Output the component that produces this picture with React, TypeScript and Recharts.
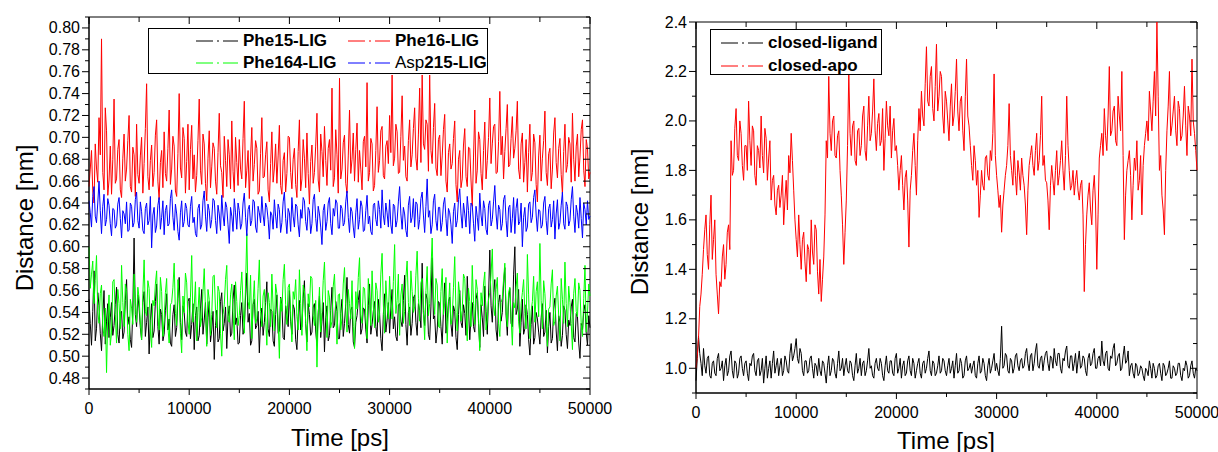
import React from 'react';
import { LineChart, Line, XAxis, YAxis, Legend, ReferenceArea } from 'recharts';

const FONT = '"Liberation Sans", Arial, sans-serif';

// sampling grid, one frame every 125 ps
const time: number[] = Array.from({ length: 401 }, (_, i) => i * 125);

const xTicks = [0, 5000, 10000, 15000, 20000, 25000, 30000, 35000, 40000, 45000, 50000];
const leftYTicks = [
  0.47, 0.48, 0.49, 0.5, 0.51, 0.52, 0.53, 0.54, 0.55, 0.56, 0.57, 0.58, 0.59, 0.6, 0.61, 0.62, 0.63,
  0.64, 0.65, 0.66, 0.67, 0.68, 0.69, 0.7, 0.71, 0.72, 0.73, 0.74, 0.75, 0.76, 0.77, 0.78, 0.79, 0.8, 0.81,
];
const rightYTicks = [0.9, 1.0, 1.1, 1.2, 1.3, 1.4, 1.5, 1.6, 1.7, 1.8, 1.9, 2.0, 2.1, 2.2, 2.3, 2.4];

const phe15 = [
  0.552, 0.530, 0.510, 0.541, 0.578, 0.514, 0.525, 0.558, 0.546, 0.521, 0.505, 0.537, 0.560, 0.511, 0.532, 0.548, 0.517, 0.535, 0.549, 0.519,
  0.528, 0.547, 0.563, 0.520, 0.512, 0.539, 0.541, 0.516, 0.522, 0.551, 0.570, 0.529, 0.536, 0.515, 0.508, 0.544, 0.608, 0.538, 0.527, 0.556,
  0.544, 0.526, 0.515, 0.549, 0.559, 0.518, 0.531, 0.545, 0.502, 0.533, 0.548, 0.517, 0.523, 0.550, 0.566, 0.527, 0.511, 0.543, 0.538, 0.514,
  0.520, 0.542, 0.557, 0.524, 0.534, 0.512, 0.509, 0.538, 0.547, 0.518, 0.526, 0.553, 0.572, 0.531, 0.515, 0.546, 0.540, 0.522, 0.518, 0.550,
  0.553, 0.516, 0.529, 0.548, 0.506, 0.537, 0.545, 0.514, 0.519, 0.544, 0.561, 0.520, 0.533, 0.549, 0.511, 0.535, 0.550, 0.513, 0.524, 0.541,
  0.497, 0.528, 0.542, 0.513, 0.516, 0.550, 0.558, 0.523, 0.530, 0.545, 0.507, 0.536, 0.546, 0.518, 0.521, 0.552, 0.565, 0.529, 0.535, 0.511,
  0.512, 0.537, 0.549, 0.520, 0.526, 0.555, 0.576, 0.531, 0.539, 0.510, 0.514, 0.547, 0.552, 0.525, 0.528, 0.541, 0.503, 0.533, 0.544, 0.519,
  0.531, 0.549, 0.568, 0.525, 0.518, 0.543, 0.541, 0.514, 0.509, 0.538, 0.556, 0.521, 0.523, 0.554, 0.547, 0.517, 0.515, 0.546, 0.537, 0.527,
  0.560, 0.532, 0.520, 0.547, 0.543, 0.515, 0.506, 0.536, 0.551, 0.524, 0.527, 0.553, 0.569, 0.530, 0.513, 0.548, 0.538, 0.519, 0.522, 0.545,
  0.548, 0.523, 0.510, 0.540, 0.555, 0.517, 0.532, 0.549, 0.504, 0.535, 0.546, 0.514, 0.519, 0.542, 0.563, 0.526, 0.528, 0.550, 0.541, 0.516,
  0.516, 0.539, 0.552, 0.518, 0.530, 0.548, 0.572, 0.529, 0.521, 0.542, 0.545, 0.513, 0.508, 0.531, 0.537, 0.551, 0.560, 0.520, 0.525, 0.544,
  0.543, 0.524, 0.512, 0.546, 0.566, 0.520, 0.529, 0.541, 0.550, 0.527, 0.518, 0.552, 0.539, 0.516, 0.505, 0.538, 0.557, 0.522, 0.533, 0.549,
  0.521, 0.544, 0.561, 0.525, 0.536, 0.518, 0.514, 0.547, 0.548, 0.532, 0.527, 0.551, 0.574, 0.529, 0.510, 0.540, 0.545, 0.519, 0.530, 0.553,
  0.556, 0.531, 0.519, 0.548, 0.542, 0.526, 0.585, 0.539, 0.528, 0.557, 0.552, 0.520, 0.515, 0.545, 0.590, 0.534, 0.537, 0.512, 0.524, 0.550,
  0.548, 0.527, 0.511, 0.543, 0.567, 0.521, 0.532, 0.550, 0.554, 0.529, 0.518, 0.546, 0.541, 0.517, 0.506, 0.538, 0.560, 0.531, 0.526, 0.547,
  0.539, 0.519, 0.573, 0.544, 0.515, 0.536, 0.549, 0.527, 0.522, 0.552, 0.558, 0.530, 0.508, 0.547, 0.535, 0.518, 0.564, 0.541, 0.520, 0.555,
  0.597, 0.546, 0.531, 0.558, 0.570, 0.524, 0.514, 0.549, 0.556, 0.532, 0.540, 0.566, 0.581, 0.537, 0.519, 0.553, 0.562, 0.530, 0.527, 0.575,
  0.600, 0.538, 0.543, 0.561, 0.509, 0.531, 0.552, 0.520, 0.525, 0.547, 0.538, 0.515, 0.501, 0.529, 0.546, 0.511, 0.517, 0.540, 0.534, 0.522,
  0.511, 0.535, 0.548, 0.518, 0.522, 0.542, 0.503, 0.527, 0.540, 0.512, 0.516, 0.544, 0.553, 0.523, 0.505, 0.537, 0.531, 0.509, 0.519, 0.546,
  0.542, 0.520, 0.507, 0.533, 0.528, 0.545, 0.552, 0.517, 0.513, 0.539, 0.536, 0.512, 0.498, 0.530, 0.524, 0.541, 0.547, 0.521, 0.510, 0.537,
  0.526,
];

const phe16 = [
  0.655, 0.671, 0.688, 0.651, 0.640, 0.694, 0.672, 0.659, 0.718, 0.684, 0.790, 0.668, 0.652, 0.727, 0.706, 0.647, 0.661, 0.692, 0.648, 0.680,
  0.735, 0.658, 0.662, 0.689, 0.698, 0.652, 0.645, 0.681, 0.703, 0.660, 0.671, 0.697, 0.720, 0.655, 0.650, 0.691, 0.684, 0.646, 0.712, 0.666,
  0.658, 0.683, 0.700, 0.649, 0.676, 0.708, 0.749, 0.664, 0.652, 0.679, 0.693, 0.655, 0.668, 0.702, 0.716, 0.660, 0.643, 0.677, 0.688, 0.654,
  0.705, 0.667, 0.660, 0.690, 0.725, 0.657, 0.671, 0.701, 0.692, 0.651, 0.646, 0.685, 0.740, 0.672, 0.663, 0.709, 0.699, 0.649, 0.678, 0.712,
  0.652, 0.689, 0.711, 0.662, 0.684, 0.650, 0.665, 0.697, 0.735, 0.670, 0.657, 0.703, 0.694, 0.658, 0.642, 0.681, 0.706, 0.654, 0.673, 0.695,
  0.690, 0.660, 0.648, 0.686, 0.722, 0.674, 0.668, 0.645, 0.701, 0.679, 0.655, 0.698, 0.684, 0.653, 0.715, 0.669, 0.650, 0.700, 0.677, 0.656,
  0.698, 0.671, 0.662, 0.699, 0.733, 0.654, 0.670, 0.688, 0.644, 0.682, 0.709, 0.660, 0.675, 0.697, 0.690, 0.648, 0.651, 0.685, 0.718, 0.663,
  0.664, 0.684, 0.696, 0.652, 0.641, 0.676, 0.705, 0.659, 0.672, 0.694, 0.658, 0.683, 0.711, 0.656, 0.648, 0.679, 0.686, 0.650, 0.667, 0.701,
  0.700, 0.668, 0.653, 0.680, 0.690, 0.657, 0.645, 0.687, 0.716, 0.651, 0.662, 0.698, 0.681, 0.654, 0.704, 0.667, 0.639, 0.678, 0.693, 0.658,
  0.668, 0.692, 0.722, 0.661, 0.650, 0.703, 0.687, 0.664, 0.710, 0.679, 0.656, 0.690, 0.698, 0.670, 0.745, 0.655, 0.663, 0.707, 0.684, 0.649,
  0.754, 0.662, 0.671, 0.695, 0.702, 0.658, 0.649, 0.683, 0.725, 0.667, 0.680, 0.704, 0.660, 0.689, 0.713, 0.659, 0.688, 0.671, 0.652, 0.696,
  0.701, 0.673, 0.750, 0.660, 0.668, 0.699, 0.694, 0.651, 0.656, 0.688, 0.728, 0.668, 0.679, 0.706, 0.710, 0.665, 0.662, 0.692, 0.697, 0.676,
  0.720, 0.686, 0.757, 0.674, 0.681, 0.712, 0.705, 0.667, 0.668, 0.701, 0.738, 0.679, 0.692, 0.664, 0.660, 0.697, 0.716, 0.673, 0.684, 0.708,
  0.727, 0.681, 0.670, 0.703, 0.745, 0.677, 0.757, 0.694, 0.689, 0.716, 0.712, 0.669, 0.757, 0.688, 0.676, 0.709, 0.731, 0.672, 0.665, 0.698,
  0.702, 0.665, 0.683, 0.707, 0.721, 0.660, 0.650, 0.686, 0.694, 0.671, 0.676, 0.699, 0.715, 0.657, 0.641, 0.680, 0.688, 0.654, 0.662, 0.693,
  0.708, 0.664, 0.655, 0.691, 0.690, 0.661, 0.637, 0.682, 0.725, 0.658, 0.670, 0.705, 0.698, 0.667, 0.652, 0.688, 0.714, 0.662, 0.679, 0.700,
  0.736, 0.676, 0.694, 0.710, 0.712, 0.667, 0.668, 0.696, 0.742, 0.684, 0.701, 0.662, 0.687, 0.708, 0.730, 0.673, 0.675, 0.699, 0.719, 0.681,
  0.690, 0.706, 0.733, 0.671, 0.662, 0.694, 0.704, 0.659, 0.677, 0.698, 0.650, 0.686, 0.712, 0.660, 0.668, 0.703, 0.695, 0.657, 0.641, 0.683,
  0.702, 0.660, 0.681, 0.697, 0.724, 0.668, 0.656, 0.685, 0.690, 0.653, 0.671, 0.704, 0.718, 0.677, 0.663, 0.690, 0.699, 0.666, 0.648, 0.687,
  0.712, 0.668, 0.675, 0.700, 0.694, 0.659, 0.722, 0.680, 0.660, 0.692, 0.703, 0.664, 0.682, 0.707, 0.716, 0.670, 0.655, 0.698, 0.690, 0.662,
  0.668,
];

const phe164 = [
  0.600, 0.562, 0.575, 0.587, 0.548, 0.569, 0.592, 0.541, 0.530, 0.557, 0.565, 0.527, 0.518, 0.544, 0.485, 0.536, 0.556, 0.510, 0.522, 0.568,
  0.570, 0.538, 0.512, 0.561, 0.548, 0.525, 0.583, 0.549, 0.527, 0.566, 0.560, 0.520, 0.505, 0.552, 0.544, 0.529, 0.575, 0.547, 0.531, 0.563,
  0.553, 0.530, 0.515, 0.557, 0.588, 0.541, 0.537, 0.569, 0.562, 0.523, 0.508, 0.551, 0.546, 0.566, 0.578, 0.535, 0.524, 0.572, 0.559, 0.518,
  0.533, 0.558, 0.571, 0.526, 0.512, 0.547, 0.549, 0.563, 0.585, 0.539, 0.528, 0.570, 0.556, 0.521, 0.503, 0.555, 0.540, 0.576, 0.567, 0.532,
  0.520, 0.554, 0.592, 0.531, 0.545, 0.568, 0.514, 0.540, 0.563, 0.527, 0.535, 0.559, 0.580, 0.543, 0.509, 0.561, 0.552, 0.519, 0.538, 0.573,
  0.574, 0.542, 0.526, 0.564, 0.559, 0.521, 0.500, 0.538, 0.547, 0.570, 0.583, 0.533, 0.531, 0.556, 0.566, 0.540, 0.515, 0.568, 0.550, 0.528,
  0.537, 0.560, 0.577, 0.545, 0.521, 0.566, 0.612, 0.550, 0.543, 0.574, 0.516, 0.548, 0.569, 0.530, 0.534, 0.562, 0.588, 0.541, 0.527, 0.555,
  0.561, 0.536, 0.510, 0.558, 0.549, 0.527, 0.575, 0.544, 0.523, 0.566, 0.557, 0.532, 0.498, 0.553, 0.541, 0.570, 0.584, 0.547, 0.529, 0.563,
  0.566, 0.540, 0.513, 0.559, 0.552, 0.570, 0.536, 0.524, 0.579, 0.548, 0.519, 0.565, 0.560, 0.531, 0.505, 0.557, 0.545, 0.573, 0.571, 0.537,
  0.528, 0.551, 0.490, 0.537, 0.563, 0.522, 0.540, 0.569, 0.586, 0.543, 0.517, 0.560, 0.554, 0.526, 0.532, 0.564, 0.575, 0.541, 0.511, 0.556,
  0.557, 0.524, 0.535, 0.566, 0.581, 0.546, 0.522, 0.561, 0.548, 0.534, 0.569, 0.527, 0.507, 0.559, 0.543, 0.572, 0.590, 0.538, 0.530, 0.563,
  0.562, 0.537, 0.516, 0.571, 0.553, 0.528, 0.578, 0.546, 0.526, 0.567, 0.560, 0.531, 0.539, 0.575, 0.594, 0.548, 0.521, 0.569, 0.547, 0.534,
  0.573, 0.547, 0.534, 0.568, 0.602, 0.539, 0.551, 0.575, 0.519, 0.556, 0.566, 0.530, 0.541, 0.572, 0.587, 0.549, 0.528, 0.578, 0.559, 0.540,
  0.545, 0.574, 0.596, 0.553, 0.532, 0.567, 0.571, 0.541, 0.515, 0.560, 0.582, 0.537, 0.548, 0.579, 0.608, 0.556, 0.538, 0.571, 0.565, 0.527,
  0.526, 0.559, 0.580, 0.538, 0.549, 0.572, 0.512, 0.545, 0.567, 0.529, 0.535, 0.563, 0.591, 0.540, 0.523, 0.568, 0.556, 0.532, 0.542, 0.575,
  0.571, 0.540, 0.514, 0.562, 0.550, 0.527, 0.583, 0.548, 0.529, 0.570, 0.561, 0.535, 0.505, 0.558, 0.546, 0.566, 0.577, 0.524, 0.533, 0.552,
  0.558, 0.575, 0.598, 0.547, 0.537, 0.561, 0.572, 0.530, 0.518, 0.549, 0.553, 0.570, 0.585, 0.541, 0.527, 0.558, 0.563, 0.536, 0.510, 0.549,
  0.544, 0.563, 0.576, 0.532, 0.521, 0.548, 0.558, 0.570, 0.539, 0.525, 0.593, 0.556, 0.516, 0.541, 0.550, 0.573, 0.531, 0.559, 0.568, 0.536,
  0.603, 0.551, 0.525, 0.569, 0.557, 0.534, 0.509, 0.543, 0.545, 0.566, 0.579, 0.528, 0.532, 0.555, 0.564, 0.537, 0.514, 0.571, 0.552, 0.530,
  0.586, 0.548, 0.527, 0.564, 0.549, 0.530, 0.506, 0.557, 0.571, 0.541, 0.536, 0.567, 0.560, 0.529, 0.518, 0.553, 0.583, 0.522, 0.540, 0.566,
  0.555,
];

const asp215 = [
  0.642, 0.631, 0.618, 0.646, 0.655, 0.628, 0.622, 0.640, 0.660, 0.633, 0.612, 0.637, 0.648, 0.619, 0.625, 0.644, 0.638, 0.621, 0.610, 0.635,
  0.634, 0.617, 0.620, 0.639, 0.645, 0.626, 0.608, 0.633, 0.630, 0.621, 0.641, 0.614, 0.615, 0.640, 0.637, 0.618, 0.622, 0.643, 0.650, 0.624,
  0.617, 0.641, 0.632, 0.615, 0.612, 0.635, 0.640, 0.620, 0.624, 0.646, 0.599, 0.629, 0.636, 0.613, 0.619, 0.638, 0.645, 0.616, 0.627, 0.642,
  0.611, 0.633, 0.638, 0.619, 0.621, 0.644, 0.652, 0.627, 0.615, 0.639, 0.630, 0.614, 0.606, 0.631, 0.642, 0.618, 0.623, 0.640, 0.635, 0.620,
  0.618, 0.637, 0.646, 0.622, 0.627, 0.612, 0.609, 0.635, 0.639, 0.616, 0.620, 0.642, 0.651, 0.628, 0.614, 0.639, 0.633, 0.617, 0.625, 0.644,
  0.642, 0.624, 0.612, 0.638, 0.630, 0.615, 0.647, 0.629, 0.619, 0.641, 0.636, 0.620, 0.603, 0.636, 0.628, 0.614, 0.644, 0.631, 0.616, 0.640,
  0.633, 0.616, 0.621, 0.640, 0.649, 0.627, 0.610, 0.634, 0.638, 0.619, 0.624, 0.643, 0.641, 0.618, 0.613, 0.637, 0.631, 0.622, 0.646, 0.629,
  0.619, 0.640, 0.636, 0.625, 0.607, 0.632, 0.629, 0.616, 0.643, 0.628, 0.617, 0.639, 0.634, 0.613, 0.622, 0.641, 0.650, 0.626, 0.612, 0.635,
  0.631, 0.614, 0.645, 0.628, 0.618, 0.639, 0.637, 0.620, 0.609, 0.634, 0.626, 0.645, 0.642, 0.623, 0.615, 0.636, 0.633, 0.612, 0.621, 0.643,
  0.648, 0.626, 0.614, 0.637, 0.630, 0.618, 0.602, 0.633, 0.639, 0.615, 0.623, 0.640, 0.645, 0.621, 0.611, 0.635, 0.628, 0.643, 0.640, 0.617,
  0.617, 0.638, 0.635, 0.619, 0.622, 0.641, 0.651, 0.627, 0.613, 0.636, 0.632, 0.618, 0.608, 0.631, 0.644, 0.616, 0.625, 0.642, 0.637, 0.614,
  0.615, 0.633, 0.647, 0.621, 0.628, 0.614, 0.611, 0.638, 0.640, 0.625, 0.619, 0.642, 0.634, 0.617, 0.652, 0.629, 0.620, 0.640, 0.631, 0.618,
  0.643, 0.620, 0.612, 0.639, 0.637, 0.618, 0.624, 0.641, 0.655, 0.630, 0.616, 0.636, 0.630, 0.615, 0.609, 0.638, 0.646, 0.622, 0.627, 0.644,
  0.618, 0.641, 0.639, 0.616, 0.625, 0.644, 0.650, 0.629, 0.613, 0.637, 0.662, 0.627, 0.633, 0.612, 0.620, 0.642, 0.648, 0.624, 0.615, 0.636,
  0.636, 0.614, 0.622, 0.639, 0.645, 0.626, 0.610, 0.635, 0.631, 0.620, 0.603, 0.632, 0.640, 0.618, 0.624, 0.643, 0.653, 0.630, 0.617, 0.640,
  0.630, 0.618, 0.646, 0.633, 0.612, 0.640, 0.638, 0.621, 0.605, 0.637, 0.627, 0.615, 0.649, 0.629, 0.619, 0.642, 0.635, 0.616, 0.611, 0.638,
  0.642, 0.619, 0.625, 0.641, 0.656, 0.630, 0.616, 0.638, 0.634, 0.615, 0.621, 0.643, 0.647, 0.624, 0.609, 0.636, 0.638, 0.613, 0.626, 0.645,
  0.612, 0.635, 0.644, 0.620, 0.623, 0.640, 0.600, 0.627, 0.636, 0.614, 0.618, 0.639, 0.641, 0.622, 0.627, 0.645, 0.652, 0.629, 0.614, 0.634,
  0.633, 0.617, 0.620, 0.640, 0.646, 0.624, 0.611, 0.635, 0.639, 0.618, 0.625, 0.642, 0.607, 0.630, 0.643, 0.616, 0.622, 0.638, 0.650, 0.621,
  0.616, 0.641, 0.637, 0.619, 0.624, 0.643, 0.655, 0.628, 0.613, 0.638, 0.631, 0.617, 0.645, 0.626, 0.608, 0.640, 0.634, 0.620, 0.642, 0.625,
  0.628,
];

const closedLigand = [
  0.95, 1.04, 1.13, 1.06, 1.02, 0.97, 1.08, 1.01, 0.98, 1.04, 1.05, 0.97, 0.96, 1.02, 1.03, 0.98, 0.97, 1.04, 1.06, 0.99,
  1.00, 1.03, 0.95, 1.01, 1.04, 0.97, 0.99, 1.05, 1.07, 0.99, 0.96, 1.03, 1.02, 0.96, 0.98, 1.04, 1.05, 1.00, 0.97, 1.02,
  1.03, 0.98, 0.95, 1.02, 1.01, 1.05, 1.06, 0.99, 0.97, 1.03, 1.04, 0.97, 0.99, 1.04, 0.94, 1.00, 1.05, 0.96, 1.00, 1.03,
  0.96, 1.02, 1.07, 0.98, 1.01, 1.04, 0.97, 1.01, 1.04, 0.97, 0.99, 1.05, 1.03, 0.99, 0.98, 1.06, 1.10, 1.03, 1.05, 1.08,
  1.12, 1.04, 1.02, 1.08, 1.06, 0.99, 0.97, 1.03, 1.03, 0.98, 0.99, 1.04, 1.05, 1.00, 0.96, 1.02, 1.01, 0.97, 1.04, 0.99,
  0.97, 1.03, 1.02, 0.98, 0.94, 1.01, 1.05, 0.97, 0.99, 1.04, 1.03, 0.98, 0.96, 1.02, 1.07, 0.99, 1.00, 1.04, 0.97, 1.01,
  1.04, 0.99, 0.98, 1.03, 1.02, 0.97, 0.95, 1.01, 1.06, 0.98, 1.00, 1.04, 0.97, 1.02, 1.03, 0.97, 0.99, 1.03, 1.08, 1.00,
  1.01, 0.97, 0.96, 1.02, 1.04, 1.00, 0.99, 1.04, 1.02, 0.97, 0.95, 1.01, 1.05, 0.99, 0.98, 1.03, 1.03, 0.98, 0.97, 1.04,
  1.06, 0.98, 1.00, 1.04, 0.96, 1.01, 1.03, 0.97, 0.98, 1.03, 1.05, 0.99, 0.97, 1.04, 1.02, 0.96, 0.99, 1.02, 1.04, 0.98,
  0.96, 1.02, 1.03, 0.98, 1.00, 1.04, 1.07, 0.99, 0.97, 1.03, 1.02, 0.97, 0.98, 1.01, 1.05, 0.98, 0.99, 1.04, 1.03, 0.99,
  0.97, 1.01, 1.04, 0.98, 1.00, 1.03, 0.96, 1.01, 1.06, 0.98, 0.99, 1.04, 1.02, 0.96, 0.97, 1.03, 1.05, 0.99, 1.00, 1.02,
  0.98, 1.01, 1.03, 0.97, 0.96, 1.02, 1.05, 0.98, 0.99, 1.04, 1.02, 0.97, 0.95, 1.01, 1.04, 0.98, 1.00, 1.03, 1.06, 0.99,
  1.02, 0.99, 0.97, 1.04, 1.17, 1.00, 1.01, 1.06, 1.05, 0.99, 0.98, 1.04, 1.03, 0.98, 1.00, 1.05, 1.06, 1.01, 0.99, 1.03,
  1.04, 1.00, 1.01, 1.06, 1.08, 1.02, 0.99, 1.05, 1.06, 0.99, 1.02, 1.07, 1.10, 1.01, 1.00, 1.04, 1.05, 0.99, 1.03, 1.06,
  1.07, 1.02, 0.99, 1.05, 1.04, 1.00, 1.08, 1.03, 1.01, 1.06, 1.06, 1.00, 0.98, 1.04, 1.03, 1.07, 1.09, 1.01, 1.00, 1.05,
  1.05, 0.99, 1.02, 1.06, 0.98, 1.03, 1.07, 1.00, 1.01, 1.05, 1.04, 0.99, 0.97, 1.04, 1.06, 1.01, 1.02, 1.06, 1.08, 1.00,
  1.00, 1.04, 1.05, 1.01, 1.11, 1.03, 1.01, 1.06, 1.07, 1.00, 0.99, 1.05, 1.04, 1.08, 1.10, 1.01, 1.02, 1.05, 1.06, 0.99,
  1.00, 1.05, 1.09, 1.02, 1.03, 1.07, 0.97, 1.01, 1.02, 0.98, 0.96, 1.02, 1.01, 0.97, 0.98, 1.01, 1.00, 0.97, 0.95, 1.00,
  0.99, 0.97, 1.03, 1.00, 0.96, 1.02, 1.00, 0.96, 0.97, 1.01, 1.02, 0.98, 0.95, 1.02, 1.01, 0.97, 0.98, 1.00, 1.03, 0.96,
  0.96, 1.01, 1.00, 0.97, 0.98, 1.02, 1.02, 0.97, 0.95, 1.00, 0.99, 1.03, 1.01, 0.96, 0.97, 1.01, 1.03, 0.98, 0.96, 1.00,
  0.99,
];

const closedApo = [
  1.00, 1.05, 1.12, 1.25, 1.30, 1.38, 1.48, 1.56, 1.62, 1.46, 1.40, 1.58, 1.70, 1.44, 1.52, 1.60, 1.38, 1.30, 1.22, 1.35,
  1.33, 1.45, 1.50, 1.36, 1.42, 1.55, 1.58, 1.48, 1.92, 1.78, 1.80, 1.97, 2.05, 1.86, 1.84, 2.00, 1.95, 1.82, 1.76, 1.90,
  1.90, 1.80, 2.08, 1.92, 1.82, 1.98, 1.96, 1.78, 1.74, 1.90, 1.88, 1.81, 2.02, 1.86, 1.79, 1.97, 1.93, 1.76, 1.85, 1.92,
  1.68, 1.76, 1.78, 1.66, 1.62, 1.72, 1.74, 1.65, 1.70, 1.78, 1.58, 1.68, 1.76, 1.64, 1.86, 1.79, 1.95, 1.84, 1.72, 1.60,
  1.52, 1.45, 1.62, 1.50, 1.40, 1.52, 1.55, 1.43, 1.35, 1.50, 1.48, 1.38, 1.60, 1.47, 1.42, 1.58, 1.56, 1.39, 1.30, 1.44,
  1.27, 1.36, 1.45, 1.62, 1.92, 1.85, 2.18, 1.95, 1.88, 2.00, 2.02, 1.86, 1.85, 1.94, 1.96, 1.80, 1.70, 1.58, 1.42, 1.55,
  1.68, 1.90, 2.20, 1.95, 1.86, 1.98, 2.00, 1.84, 1.82, 1.96, 1.97, 1.86, 1.90, 2.02, 2.06, 1.88, 1.84, 1.98, 2.10, 1.92,
  1.95, 2.04, 2.17, 1.96, 1.88, 1.99, 2.03, 1.90, 1.92, 2.05, 1.80, 1.93, 2.08, 1.98, 1.94, 2.06, 1.85, 1.96, 2.01, 1.88,
  1.90, 1.82, 1.72, 1.80, 1.86, 1.74, 1.64, 1.77, 1.80, 1.68, 1.49, 1.72, 1.78, 1.88, 1.95, 1.82, 1.70, 1.92, 2.05, 1.96,
  2.12, 2.02, 1.98, 2.15, 2.30, 2.08, 2.06, 2.18, 2.22, 2.05, 2.00, 2.14, 2.31, 2.04, 2.10, 2.20, 2.18, 2.02, 1.95, 2.12,
  2.08, 2.00, 1.92, 2.06, 2.15, 1.98, 2.02, 2.12, 2.25, 2.04, 1.96, 2.08, 2.10, 1.96, 1.88, 2.10, 2.25, 2.02, 1.98, 1.90,
  1.82, 1.76, 1.90, 1.84, 1.74, 1.80, 1.61, 1.70, 1.80, 1.74, 1.72, 1.85, 1.86, 1.78, 1.76, 1.88, 1.84, 1.95, 2.19, 1.86,
  1.78, 1.72, 1.65, 1.70, 1.55, 1.66, 1.72, 1.78, 1.82, 1.90, 2.07, 1.86, 1.80, 1.74, 1.88, 1.78, 1.70, 1.84, 1.79, 1.72,
  1.85, 1.78, 1.74, 1.66, 1.54, 1.72, 1.82, 1.86, 1.90, 1.82, 1.78, 1.88, 1.95, 1.80, 1.84, 1.94, 2.10, 1.82, 1.86, 1.76,
  1.75, 1.68, 1.56, 1.74, 1.82, 1.76, 1.70, 1.80, 1.88, 1.74, 1.78, 1.84, 1.92, 1.80, 1.72, 1.86, 2.10, 1.90, 1.80, 1.72,
  1.74, 1.80, 1.70, 1.76, 1.80, 1.72, 1.68, 1.74, 1.76, 1.62, 1.31, 1.50, 1.62, 1.70, 1.75, 1.64, 1.58, 1.72, 1.78, 1.66,
  1.40, 1.62, 1.85, 1.90, 1.95, 1.86, 2.05, 1.94, 1.88, 2.02, 2.22, 1.94, 1.96, 2.04, 2.06, 1.92, 1.90, 2.10, 2.02, 1.96,
  2.20, 1.86, 1.52, 1.70, 1.80, 1.84, 1.88, 1.78, 1.60, 1.74, 1.85, 1.80, 1.92, 1.72, 1.76, 1.86, 1.62, 1.82, 1.90, 1.95,
  2.00, 1.92, 2.12, 2.04, 1.96, 2.08, 2.20, 2.02, 2.40, 2.10, 1.80, 1.86, 1.70, 1.64, 1.54, 1.80, 1.96, 2.06, 2.20, 1.94,
  1.98, 2.04, 2.10, 1.96, 1.90, 2.08, 2.05, 1.92, 1.94, 2.02, 2.14, 1.98, 1.86, 2.06, 2.02, 1.94, 2.25, 2.00, 1.95, 1.88,
  1.80,
];

const leftData = time.map((t, i) => ({
  t,
  phe15: phe15[i],
  phe16: phe16[i],
  phe164: phe164[i],
  asp215: asp215[i],
}));

const rightData = time.map((t, i) => ({
  t,
  ligand: closedLigand[i],
  apo: closedApo[i],
}));

const leftOrder = ['Phe15-LIG', 'Phe16-LIG', 'Phe164-LIG', 'Asp215-LIG'];
const rightOrder = ['closed-ligand', 'closed-apo'];

// ticks drawn by hand so the frame gets Origin-style mirrored inner ticks
const makeXTick = (plotTop: number) => (props: any) => {
  const { x, y, payload } = props;
  const major = payload.value % 10000 === 0;
  return (
    <g>
      <line x1={x} x2={x} y1={y} y2={y + (major ? 6 : 4)} stroke="#000" />
      <line x1={x} x2={x} y1={plotTop} y2={plotTop + (major ? 7 : 5)} stroke="#000" />
      {major && (
        <text x={x} y={y + 25} textAnchor="middle" fontSize={16} fontFamily={FONT} fill="#000">
          {payload.value}
        </text>
      )}
    </g>
  );
};

const makeYTick = (plotRight: number, step: number, digits: number) => (props: any) => {
  const { x, y, payload } = props;
  const major = Math.round(payload.value / step) % 2 === 0;
  return (
    <g>
      <line x1={x - (major ? 7 : 4)} x2={x} y1={y} y2={y} stroke="#000" />
      <line x1={plotRight - (major ? 7 : 4)} x2={plotRight} y1={y} y2={y} stroke="#000" />
      {major && (
        <text x={x - 9} y={y + 5.5} textAnchor="end" fontSize={16} fontFamily={FONT} fill="#000">
          {payload.value.toFixed(digits)}
        </text>
      )}
    </g>
  );
};

const renderName = (name: string) =>
  name === 'Asp215-LIG' ? (
    <>
      <span style={{ fontWeight: 400 }}>Asp</span>215-LIG
    </>
  ) : (
    name
  );

const LegendBox = ({ payload, order, width, height, colX, rowY }: any) => {
  const items = order.map((n: string) => (payload || []).find((p: any) => p.value === n)).filter(Boolean);
  return (
    <div
      style={{
        position: 'relative',
        width,
        height,
        border: '1px solid #000',
        boxSizing: 'border-box',
        background: '#fff',
      }}
    >
      {items.map((item: any, i: number) => {
        const col = i % colX.length;
        const row = Math.floor(i / colX.length);
        return (
          <div
            key={item.value}
            style={{
              position: 'absolute',
              left: colX[col],
              top: rowY[row] - 10,
              height: 20,
              display: 'flex',
              alignItems: 'center',
              whiteSpace: 'nowrap',
            }}
          >
            <svg width={42} height={4} style={{ display: 'block' }}>
              <line x1={0} y1={2} x2={42} y2={2} stroke={item.color} strokeDasharray="17 4 2 4" />
            </svg>
            <span style={{ marginLeft: 5, fontWeight: 700, fontSize: 17, fontFamily: FONT, color: '#000' }}>
              {renderName(item.value)}
            </span>
          </div>
        );
      })}
    </div>
  );
};

const App = () => {
  return (
    <div style={{ position: 'absolute', left: 0, top: 0, width: 1218, height: 452, background: '#fff' }}>
      <div style={{ position: 'absolute', left: 0, top: 0 }}>
        <LineChart width={640} height={452} data={leftData} margin={{ top: 17, right: 50, bottom: 0, left: 0 }}>
          <XAxis
            dataKey="t"
            type="number"
            domain={[0, 50000]}
            ticks={xTicks}
            interval={0}
            height={63}
            tickSize={0}
            tickMargin={0}
            tickLine={false}
            axisLine={{ stroke: '#000' }}
            tick={makeXTick(17)}
          />
          <YAxis
            type="number"
            domain={[0.47, 0.81]}
            ticks={leftYTicks}
            interval={0}
            width={89}
            tickSize={0}
            tickMargin={0}
            tickLine={false}
            axisLine={{ stroke: '#000' }}
            tick={makeYTick(590, 0.01, 2)}
          />
          <Line dataKey="phe15" name="Phe15-LIG" stroke="#000000" strokeWidth={1} dot={false} activeDot={false} isAnimationActive={false} />
          <Line dataKey="phe16" name="Phe16-LIG" stroke="#ff0000" strokeWidth={1} dot={false} activeDot={false} isAnimationActive={false} />
          <Line dataKey="phe164" name="Phe164-LIG" stroke="#00ff00" strokeWidth={1} dot={false} activeDot={false} isAnimationActive={false} />
          <Line dataKey="asp215" name="Asp215-LIG" stroke="#0000ff" strokeWidth={1} dot={false} activeDot={false} isAnimationActive={false} />
          <ReferenceArea x1={0} x2={50000} y1={0.47} y2={0.81} fill="none" stroke="#000" strokeWidth={1} />
          <Legend
            layout="horizontal"
            verticalAlign="middle"
            align="center"
            wrapperStyle={{ left: 148, top: 28, width: 340, height: 46 }}
            content={(p: any) => (
              <LegendBox {...p} order={leftOrder} width={340} height={46} colX={[47, 199]} rowY={[12, 34]} />
            )}
          />
        </LineChart>
      </div>
      <div style={{ position: 'absolute', left: 609, top: 0 }}>
        <LineChart width={609} height={452} data={rightData} margin={{ top: 22, right: 21, bottom: 0, left: 0 }}>
          <XAxis
            dataKey="t"
            type="number"
            domain={[0, 50000]}
            ticks={xTicks}
            interval={0}
            height={59}
            tickSize={0}
            tickMargin={0}
            tickLine={false}
            axisLine={{ stroke: '#000' }}
            tick={makeXTick(22)}
          />
          <YAxis
            type="number"
            domain={[0.9, 2.4]}
            ticks={rightYTicks}
            interval={0}
            width={87}
            tickSize={0}
            tickMargin={0}
            tickLine={false}
            axisLine={{ stroke: '#000' }}
            tick={makeYTick(588, 0.1, 1)}
          />
          <Line dataKey="ligand" name="closed-ligand" stroke="#000000" strokeWidth={1} dot={false} activeDot={false} isAnimationActive={false} />
          <Line dataKey="apo" name="closed-apo" stroke="#ff0000" strokeWidth={1} dot={false} activeDot={false} isAnimationActive={false} />
          <ReferenceArea x1={0} x2={50000} y1={0.9} y2={2.4} fill="none" stroke="#000" strokeWidth={1} />
          <Legend
            layout="horizontal"
            verticalAlign="middle"
            align="center"
            wrapperStyle={{ left: 101, top: 29, width: 172, height: 46 }}
            content={(p: any) => (
              <LegendBox {...p} order={rightOrder} width={172} height={46} colX={[10]} rowY={[13, 36]} />
            )}
          />
        </LineChart>
      </div>
      <svg
        width={1218}
        height={452}
        style={{ position: 'absolute', left: 0, top: 0, pointerEvents: 'none' }}
      >
        <text x={340} y={446} textAnchor="middle" fontSize={24} fontFamily={FONT} fill="#000">
          Time [ps]
        </text>
        <text x={33} y={218} textAnchor="middle" fontSize={24} fontFamily={FONT} fill="#000" transform="rotate(-90 33 218)">
          Distance [nm]
        </text>
        <text x={946} y={449} textAnchor="middle" fontSize={24} fontFamily={FONT} fill="#000">
          Time [ps]
        </text>
        <text x={648} y={222} textAnchor="middle" fontSize={24} fontFamily={FONT} fill="#000" transform="rotate(-90 648 222)">
          Distance [nm]
        </text>
      </svg>
    </div>
  );
};

export default App;
